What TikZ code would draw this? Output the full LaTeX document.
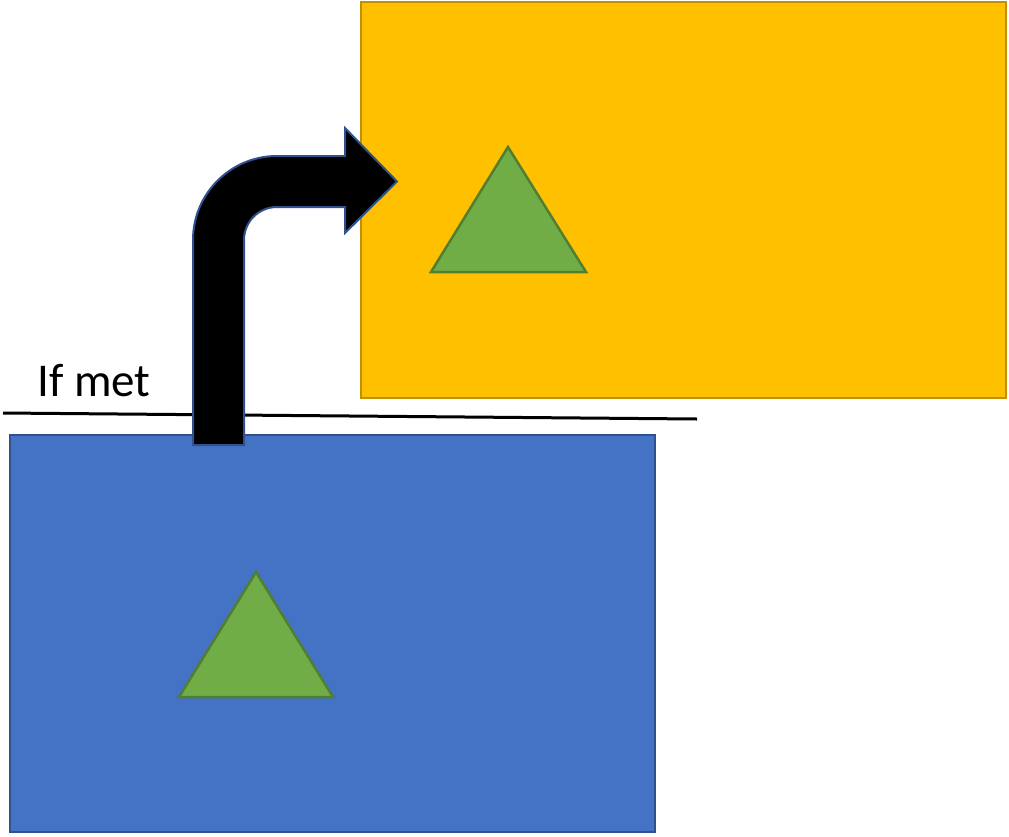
\documentclass[tikz,border=0pt]{standalone}
\usepackage{fontspec}
\setmainfont{Carlito}
\definecolor{goldfill}{HTML}{FFC000}
\definecolor{golddraw}{HTML}{BF9000}
\definecolor{bluefill}{HTML}{4472C4}
\definecolor{bluedraw}{HTML}{2F528F}
\definecolor{greenfill}{HTML}{70AD47}
\definecolor{greendraw}{HTML}{507E32}
\tikzset{
  goldbox/.style={fill=goldfill, draw=golddraw, line width=2pt},
  bluebox/.style={fill=bluefill, draw=bluedraw, line width=2pt},
  tri/.style={fill=greenfill, draw=greendraw, line width=2.5pt, line join=miter},
  bentarrow/.style={fill=black, draw=bluedraw, line width=2pt, line join=miter},
  label/.style={font=\fontsize{47}{56}\selectfont, inner sep=0pt, anchor=base west}
}
\begin{document}
\begin{tikzpicture}[x=1pt, y=-1pt]
  \useasboundingbox (0,0) rectangle (1009,836);
  % target panel
  \draw[goldbox] (361,2) rectangle (1006,398);
  \draw[tri] (508,147) -- (586,272) -- (431,272) -- cycle;
  % threshold line and its caption
  \draw[line width=3pt] (3,413) -- (697,419);
  \node[label] (cond) at (37,396) {If met};
  % source panel
  \draw[bluebox] (10,435) rectangle (655,832);
  \draw[tri] (256,572) -- (333,697) -- (179,697) -- cycle;
  % bent arrow from source to target
  \draw[bentarrow] (193,445) -- (193,240) arc[start angle=180, end angle=270, radius=84]
    -- (345,156) -- (345,128) -- (397,181.5) -- (345,233) -- (345,207) -- (277,207)
    arc[start angle=270, end angle=180, radius=33] -- (244,445) -- cycle;
\end{tikzpicture}
\end{document}
